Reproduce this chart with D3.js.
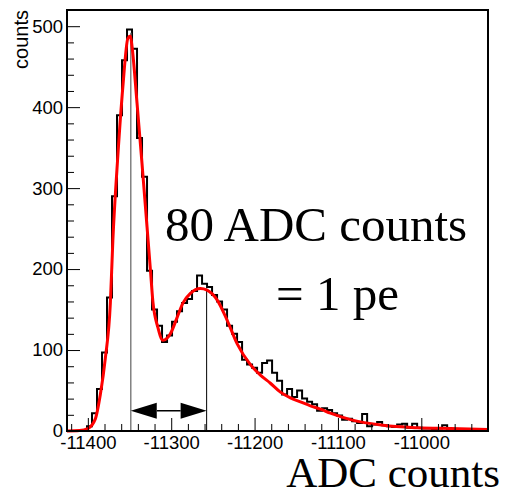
<!DOCTYPE html>
<html>
<head>
<meta charset="utf-8">
<script src="https://cdn.jsdelivr.net/npm/d3@7"></script>
<style>
  body { margin: 0; background: #fff; }
  svg text { font-family: "Liberation Sans", Arial, sans-serif; }
  .big { font-family: "Liberation Serif", "Times New Roman", serif !important; }
</style>
</head>
<body>
<div id="chart"></div>
<script>
// histogram: 6 ADC-count bins starting at -11425
var binStart = -11425;
var binWidth = 6;
var counts = [
  0, 0, 0, 1, 6, 22, 52, 97, 165, 290,
  390, 458, 496, 472, 362, 314, 198, 150, 130, 110,
  118, 135, 148, 158, 163, 173, 192, 182, 178, 168,
  160, 150, 130, 120, 110, 88, 82, 78, 72, 84,
  87, 72, 62, 45, 52, 42, 50, 40, 36, 33,
  25, 28, 26, 22, 19, 14, 15, 12, 10, 21,
  6, 8, 11, 7, 6, 5, 8, 9, 4, 9,
  4, 3, 3, 2, 3, 7, 2, 2, 1, 2,
  1, 1, 0, 1
];

// fitted curve
var fitX = [-11425, -11410, -11400, -11391, -11385, -11379, -11373, -11370, -11364, -11358,
  -11352, -11349, -11347, -11341, -11335, -11329, -11325, -11322, -11316, -11310,
  -11301, -11293, -11286, -11277, -11265, -11257, -11245, -11233, -11221, -11205,
  -11193, -11181, -11169, -11157, -11145, -11133, -11121, -11109, -11085, -11046,
  -11005, -10965, -10920];
var fitY = [0, 0.5, 3, 15, 45, 90, 158, 235, 340, 425,
  485, 488, 475, 405, 330, 252, 200, 160, 128, 112,
  120, 140, 158, 170, 176, 174, 162, 137, 108, 82,
  69, 59, 48, 41, 36, 31, 27, 22, 14, 7,
  4, 3, 2];

var xDomain = [-11425, -10920];
var yDomain = [0, 520];
var xMajor = [-11400, -11300, -11200, -11100, -11000];
var yMajor = [0, 100, 200, 300, 400, 500];

// the two peak markers and the arrow between them
var peak1 = { x: -11348.5, top: 492 };
var peak2 = { x: -11257.5, top: 176 };
var arrowLevel = 25;

var W = 506, H = 491;
var frame = { left: 67, right: 488, top: 10, bottom: 431 };

var svg = d3.select("#chart").append("svg")
  .attr("width", W)
  .attr("height", H);

var x = d3.scaleLinear().domain(xDomain).range([frame.left, frame.right]);
var y = d3.scaleLinear().domain(yDomain).range([frame.bottom, frame.top]);

// minor ticks every 20
var xMinor = d3.range(-11420, -10920, 20).filter(function(v) { return v % 100 !== 0; });
var yMinor = d3.range(0, 520, 20).filter(function(v) { return v % 100 !== 0; });

// plain hyphen like ROOT, not the unicode minus
var fmt = function(v) { return String(v); };

// histogram outline
var pts = [[x(binStart), y(0)]];
counts.forEach(function(c, i) {
  var lo = binStart + i * binWidth, hi = lo + binWidth;
  pts.push([x(lo), y(c)]);
  pts.push([x(hi), y(c)]);
});
pts.push([x(binStart + counts.length * binWidth), y(0)]);

svg.append("path")
  .attr("d", d3.line()(pts))
  .attr("fill", "none")
  .attr("stroke", "#000")
  .attr("stroke-width", 2);

// marker lines
svg.append("line")
  .attr("x1", x(peak1.x)).attr("x2", x(peak1.x))
  .attr("y1", y(0)).attr("y2", y(peak1.top))
  .attr("stroke", "#808080").attr("stroke-width", 1.5);
svg.append("line")
  .attr("x1", x(peak2.x)).attr("x2", x(peak2.x))
  .attr("y1", y(0)).attr("y2", y(peak2.top))
  .attr("stroke", "#000").attr("stroke-width", 1);

// fit
var fitData = fitX.map(function(v, i) { return [v, fitY[i]]; });
svg.append("path")
  .datum(fitData)
  .attr("d", d3.line()
    .x(function(d) { return x(d[0]); })
    .y(function(d) { return y(d[1]); })
    .curve(d3.curveMonotoneX))
  .attr("fill", "none")
  .attr("stroke", "#ff0000")
  .attr("stroke-width", 3);

// double arrow
var ax1 = x(peak1.x), ax2 = x(peak2.x), ay = y(arrowLevel);
var headL = 26, headH = 8;
svg.append("line")
  .attr("x1", ax1 + headL).attr("x2", ax2 - headL)
  .attr("y1", ay).attr("y2", ay)
  .attr("stroke", "#000").attr("stroke-width", 1.5);
svg.append("path")
  .attr("d", "M" + ax1 + "," + ay + "L" + (ax1 + headL) + "," + (ay - headH) + "L" + (ax1 + headL) + "," + (ay + headH) + "Z")
  .attr("fill", "#000");
svg.append("path")
  .attr("d", "M" + ax2 + "," + ay + "L" + (ax2 - headL) + "," + (ay - headH) + "L" + (ax2 - headL) + "," + (ay + headH) + "Z")
  .attr("fill", "#000");

// axes
function styleAxis(g) {
  g.select(".domain").remove();
  g.selectAll(".tick line").attr("stroke", "#000").attr("stroke-width", 1);
  g.selectAll(".tick text").attr("fill", "#000").style("font-size", "18.5px");
}

svg.append("g")
  .attr("transform", "translate(" + frame.left + ",0)")
  .call(d3.axisLeft(y).tickValues(yMajor).tickSize(-13).tickPadding(4).tickFormat(fmt))
  .call(styleAxis);
svg.append("g")
  .attr("transform", "translate(" + frame.left + ",0)")
  .call(d3.axisLeft(y).tickValues(yMinor).tickSize(-7).tickFormat(""))
  .call(styleAxis);

svg.append("g")
  .attr("transform", "translate(0," + frame.bottom + ")")
  .call(d3.axisBottom(x).tickValues(xMajor).tickSize(-13).tickPadding(5).tickFormat(fmt))
  .call(styleAxis);
svg.append("g")
  .attr("transform", "translate(0," + frame.bottom + ")")
  .call(d3.axisBottom(x).tickValues(xMinor).tickSize(-7).tickFormat(""))
  .call(styleAxis);

// frame
svg.append("rect")
  .attr("x", frame.left).attr("y", frame.top)
  .attr("width", frame.right - frame.left)
  .attr("height", frame.bottom - frame.top)
  .attr("fill", "none")
  .attr("stroke", "#000")
  .attr("stroke-width", 2);

// titles
svg.append("text")
  .attr("transform", "translate(28," + frame.top + ") rotate(-90)")
  .attr("text-anchor", "end")
  .style("font-size", "20px")
  .text("counts");

svg.append("text")
  .attr("class", "big")
  .attr("x", 500).attr("y", 487)
  .attr("text-anchor", "end")
  .style("font-size", "43px")
  .text("ADC counts");

svg.append("text")
  .attr("class", "big")
  .attr("x", 165).attr("y", 241)
  .style("font-size", "49px")
  .text("80 ADC counts");

svg.append("text")
  .attr("class", "big")
  .attr("x", 276).attr("y", 310)
  .style("font-size", "49px")
  .text("= 1 pe");
</script>
</body>
</html>
